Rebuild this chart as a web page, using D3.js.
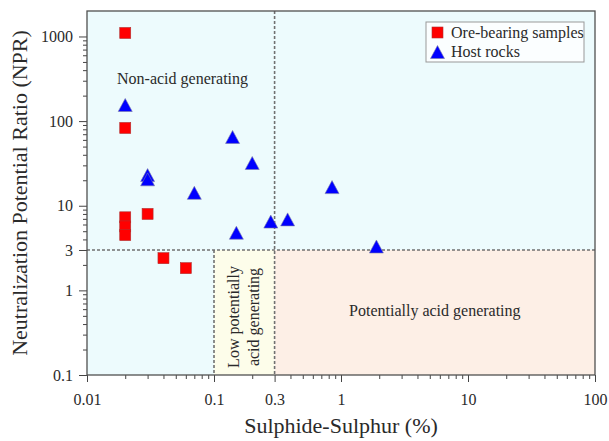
<!DOCTYPE html>
<html>

<head>
    <title>NPR vs Sulphide-Sulphur</title>
    <script type="text/javascript" src="https://d3js.org/d3.v7.min.js"></script>
    <style>
        body { margin: 0; background: #fff; }
        text { font-family: "Liberation Serif", "Times New Roman", serif; fill: #2a2a2a; }
    </style>
</head>

<body>
    <svg id="chart" width="609" height="441"></svg>

    <script>
        // values
        var oreX = [0.02, 0.02, 0.02, 0.02, 0.02, 0.03, 0.04, 0.06];
        var oreY = [1100, 83, 7.3, 5.7, 4.5, 8, 2.4, 1.83];
        var hostX = [0.02, 0.03, 0.03, 0.07, 0.14, 0.2, 0.15, 0.28, 0.38, 0.85, 1.9];
        var hostY = [155, 23, 20.5, 14.2, 65, 32, 4.8, 6.5, 6.9, 16.6, 3.3];

        var xTicks = [0.01, 0.1, 0.3, 1, 10, 100];
        var xTickLabels = ["0.01", "0.1", "0.3", "1", "10", "100"];
        var yTicks = [0.1, 1, 3, 10, 100, 1000];
        var yTickLabels = ["0.1", "1", "3", "10", "100", "1000"];

        var sLimits = [0.1, 0.3];   // sulphide-sulphur thresholds
        var nprLimit = 3;           // NPR threshold

        var svg = d3.select("#chart");
        var plotLeft = 87, plotRight = 595, plotTop = 11, plotBottom = 375;

        var x = d3.scaleLog().domain([0.01, 100]).range([plotLeft, plotRight]);
        var y = d3.scaleLog().domain([0.1, 2000]).range([plotBottom, plotTop]);

        // minor tick positions 2..9 in each decade
        function minors(lo, hi) {
            var out = [];
            for (var p = lo; p < hi; p++) {
                for (var k = 2; k <= 9; k++) out.push(k * Math.pow(10, p));
            }
            return out;
        }

        // zones
        svg.append("rect")
            .attr("x", x(0.01)).attr("y", y(2000))
            .attr("width", x(100) - x(0.01)).attr("height", y(0.1) - y(2000))
            .attr("fill", "#edfbfd");
        svg.append("rect")
            .attr("x", x(sLimits[0])).attr("y", y(nprLimit))
            .attr("width", x(sLimits[1]) - x(sLimits[0])).attr("height", y(0.1) - y(nprLimit))
            .attr("fill", "#fdfdea");
        svg.append("rect")
            .attr("x", x(sLimits[1])).attr("y", y(nprLimit))
            .attr("width", x(100) - x(sLimits[1])).attr("height", y(0.1) - y(nprLimit))
            .attr("fill", "#fdefe6");

        // dashed threshold lines
        function dashed(x1, y1, x2, y2) {
            svg.append("line")
                .attr("x1", x1).attr("y1", y1).attr("x2", x2).attr("y2", y2)
                .attr("stroke", "#707070")
                .attr("stroke-width", 1.6)
                .attr("stroke-dasharray", "3,2");
        }
        dashed(x(0.01), y(nprLimit), x(100), y(nprLimit));
        dashed(x(sLimits[1]), y(2000), x(sLimits[1]), y(0.1));
        dashed(x(sLimits[0]), y(nprLimit), x(sLimits[0]), y(0.1));

        // zone labels
        svg.append("text")
            .attr("x", 117).attr("y", 84)
            .style("font-size", "16px")
            .text("Non-acid generating");

        svg.append("text")
            .attr("x", (x(sLimits[1]) + x(100)) / 2).attr("y", 316)
            .attr("text-anchor", "middle")
            .style("font-size", "16px")
            .text("Potentially acid generating");

        var low = svg.append("text")
            .attr("transform", "translate(" + ((x(sLimits[0]) + x(sLimits[1])) / 2) + ",317) rotate(-90)")
            .attr("text-anchor", "middle")
            .style("font-size", "16px");
        low.append("tspan").attr("x", 0).attr("y", -5).text("Low potentially");
        low.append("tspan").attr("x", 0).attr("y", 15).text("acid generating");

        // axes
        svg.append("g")
            .attr("transform", "translate(0," + plotBottom + ")")
            .call(d3.axisBottom(x).tickValues(xTicks).tickSize(7).tickPadding(12)
                .tickFormat(function (d, i) { return xTickLabels[i]; }));
        svg.append("g")
            .attr("transform", "translate(0," + plotBottom + ")")
            .call(d3.axisBottom(x).tickValues(minors(-2, 2).filter(function (d) { return Math.abs(d - 0.3) > 1e-9; }))
                .tickSize(4).tickFormat(""));

        svg.append("g")
            .attr("transform", "translate(" + plotLeft + ",0)")
            .call(d3.axisLeft(y).tickValues(yTicks).tickSize(8).tickPadding(6)
                .tickFormat(function (d, i) { return yTickLabels[i]; }));
        svg.append("g")
            .attr("transform", "translate(" + plotLeft + ",0)")
            .call(d3.axisLeft(y).tickValues(minors(-1, 3).filter(function (d) { return Math.abs(d - 3) > 1e-9; }))
                .tickSize(4).tickFormat(""));

        svg.selectAll(".domain").remove();
        svg.selectAll(".tick line").attr("stroke", "#444");
        svg.selectAll(".tick text")
            .style("font-family", "'Liberation Serif', 'Times New Roman', serif")
            .style("font-size", "16px")
            .attr("fill", "#2a2a2a");

        // frame
        svg.append("rect")
            .attr("x", plotLeft).attr("y", plotTop)
            .attr("width", plotRight - plotLeft).attr("height", plotBottom - plotTop)
            .attr("fill", "none").attr("stroke", "#505050").attr("stroke-width", 1.3);

        // axis titles
        svg.append("text")
            .attr("x", 341).attr("y", 433)
            .attr("text-anchor", "middle")
            .style("font-size", "22px")
            .text("Sulphide-Sulphur (%)");

        svg.append("text")
            .attr("transform", "translate(27," + ((plotTop + plotBottom) / 2) + ") rotate(-90)")
            .attr("text-anchor", "middle")
            .style("font-size", "22px")
            .text("Neutralization Potential Ratio (NPR)");

        // points
        var ore = oreX.map(function (d, i) { return { s: d, npr: oreY[i] }; });
        var host = hostX.map(function (d, i) { return { s: d, npr: hostY[i] }; });

        svg.selectAll(".ore")
            .data(ore)
            .enter().append("rect")
            .attr("class", "ore")
            .attr("x", function (d) { return x(d.s) - 5.5; })
            .attr("y", function (d) { return y(d.npr) - 5.5; })
            .attr("width", 11).attr("height", 11)
            .attr("fill", "#ff0000")
            .attr("stroke", "#b03030").attr("stroke-width", 0.6);

        // triangle centred on its bounding box
        function tri(cx, cy) {
            var w = 7, h = 6.5;
            return "M" + cx + "," + (cy - h) + "L" + (cx + w) + "," + (cy + h) + "L" + (cx - w) + "," + (cy + h) + "Z";
        }

        svg.selectAll(".host")
            .data(host)
            .enter().append("path")
            .attr("class", "host")
            .attr("d", function (d) { return tri(x(d.s), y(d.npr)); })
            .attr("fill", "#0000ff")
            .attr("stroke", "#7a7aa8").attr("stroke-width", 0.6);

        // legend
        svg.append("rect")
            .attr("x", 426).attr("y", 22).attr("width", 158).attr("height", 40)
            .attr("fill", "#fbfeff").attr("stroke", "#999").attr("stroke-width", 1);
        svg.append("rect")
            .attr("x", 432).attr("y", 27).attr("width", 11).attr("height", 11)
            .attr("fill", "#ff0000").attr("stroke", "#b03030").attr("stroke-width", 0.6);
        svg.append("path")
            .attr("d", tri(437.5, 52))
            .attr("fill", "#0000ff").attr("stroke", "#7a7aa8").attr("stroke-width", 0.6);
        svg.append("text").attr("x", 451).attr("y", 38).style("font-size", "16px").text("Ore-bearing samples");
        svg.append("text").attr("x", 451).attr("y", 57).style("font-size", "16px").text("Host rocks");
    </script>
</body>

</html>
